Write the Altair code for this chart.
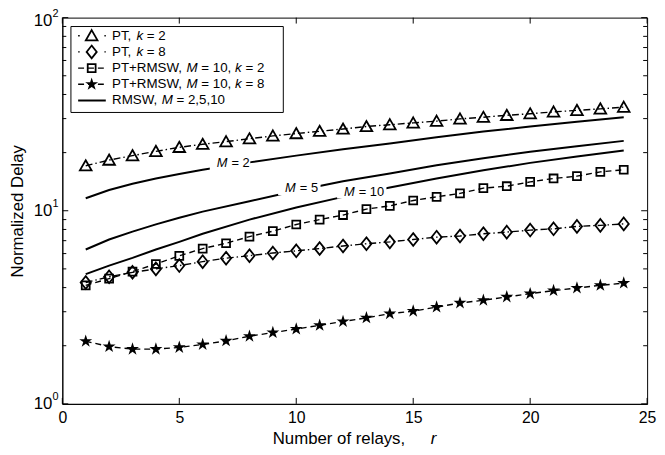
import altair as alt
import pandas as pd

FONT = "Liberation Sans"

# ---------------- data ----------------
r = list(range(1, 25))
pt_k2 = [17.1, 18.3, 19.3, 20.3, 21.3, 22.1, 22.8, 23.6, 24.4, 25.1, 25.8, 26.5,
         27.3, 27.9, 28.5, 29.1, 29.9, 30.5, 31.2, 31.8, 32.5, 33.1, 33.7, 34.4]
pt_k8 = [4.25, 4.55, 4.8, 5.0, 5.2, 5.45, 5.68, 5.85, 6.04, 6.2, 6.37, 6.57,
         6.75, 6.9, 7.1, 7.3, 7.4, 7.6, 7.75, 7.94, 8.06, 8.3, 8.4, 8.55]
rmsw_k2 = [4.11, 4.45, 4.84, 5.3, 5.84, 6.37, 6.79, 7.35, 7.84, 8.49, 9.0, 9.5,
           10.2, 10.6, 11.3, 11.8, 12.3, 13.1, 13.4, 14.1, 14.7, 15.1, 15.9, 16.3]
rmsw_k8 = [2.11, 1.98, 1.92, 1.92, 1.96, 2.03, 2.12, 2.24, 2.34, 2.44, 2.55, 2.67,
           2.79, 2.93, 3.02, 3.17, 3.33, 3.44, 3.58, 3.72, 3.86, 3.98, 4.11, 4.22]

rm_r = [1, 2, 3, 4, 5, 6, 8, 10, 12, 14, 16, 18, 20, 22, 24]
m2 = [11.6, 12.8, 13.8, 14.7, 15.5, 16.3, 17.8, 19.3, 20.8, 22.3, 24.0, 25.7, 27.3, 28.9, 30.5]
m5 = [6.3, 7.1, 7.8, 8.5, 9.2, 9.9, 11.2, 12.7, 14.2, 15.6, 17.2, 18.7, 20.2, 21.6, 23.0]
m10 = [4.7, 5.2, 5.7, 6.3, 6.9, 7.6, 9.0, 10.4, 11.8, 13.2, 14.7, 16.2, 17.7, 19.1, 20.5]

lab_r = [6.6, 9.52, 12.04]
lab_v = [17.6, 13.05, 12.55]
lab_num = ["= 2", "= 5", "= 10"]
lab_w = [34, 36, 43]

x_ticks = [0, 5, 10, 15, 20, 25]
y_major = [1, 10]
y_top = [100]
y_minor = [2, 3, 4, 5, 6, 7, 8, 9, 20, 30, 40, 50, 60, 70, 80, 90]

legend_rows = [
    ["PT, ", ("k",), " = 2"],
    ["PT, ", ("k",), " = 8"],
    ["PT+RMSW, ", ("M",), " = 10, ", ("k",), " = 2"],
    ["PT+RMSW, ", ("M",), " = 10, ", ("k",), " = 8"],
    ["RMSW, ", ("M",), " = 2,5,10"],
]

# ---------------- geometry / styles ----------------
W, H = 592, 391
TRI = "M0,-0.95L1,0.8L-1,0.8Z"
SQR = "M-1,-1L1,-1L1,1L-1,1Z"
DIA = "M0,-1L0.8,0L0,1L-0.8,0Z"
STAR = ("M0,-1L0.2245,-0.309L0.951,-0.309L0.363,0.118L0.588,0.809L0,0.382"
        "L-0.588,0.809L-0.363,0.118L-0.951,-0.309L-0.2245,-0.309Z")
DASHDOT = [7, 3, 1.5, 3]
DASHED = [6, 4]
LEG_DOT = [1.6, 25]
MS = 1.8  # marker stroke

AW = {" ": 278, ",": 278, "+": 584, "=": 584, "P": 667, "T": 611, "R": 722, "M": 833,
      "S": 667, "W": 944, "k": 500}
for ch in "0123456789":
    AW[ch] = 556


def tw(s, size):
    return sum(AW.get(c, 556) for c in s) * size / 1000.0


xs = alt.Scale(domain=[0, 25], nice=False, zero=False)
ys = alt.Scale(type="log", domain=[1, 100], nice=False)
X = alt.X("r:Q", scale=xs, axis=alt.Axis(
    values=x_ticks, format="d", ticks=False, grid=False, domain=True,
    domainColor="black", domainWidth=1, labelFontSize=16, labelFont=FONT,
    labelColor="black", labelPadding=6, labelFlush=False, title=None))
Y = alt.Y("v:Q", scale=ys, axis=alt.Axis(
    labels=False, ticks=False, grid=False, domain=True, domainColor="black",
    domainWidth=1, title="Normalized Delay", titleFontSize=17, titleFont=FONT,
    titleFontWeight="normal", titleColor="black", titlePadding=36))

one = pd.DataFrame({"i": [0]})
layers = []

# RMSW solid lines
for vals in (m2, m5, m10):
    d = pd.DataFrame({"r": rm_r, "v": vals})
    layers.append(alt.Chart(d).mark_line(color="black", strokeWidth=2).encode(x=X, y=Y))

# label backgrounds and labels
labdf = pd.DataFrame({"r": lab_r, "v": lab_v, "num": lab_num})
for i in range(len(lab_r)):
    d = labdf.iloc[[i]]
    layers.append(alt.Chart(d).mark_rect(
        fill="white", xOffset=-7, x2Offset=lab_w[i], yOffset=-7, y2Offset=7).encode(
        x="r:Q", x2="r:Q", y="v:Q", y2="v:Q"))
layers.append(alt.Chart(labdf).mark_text(
    text="M", align="left", baseline="middle", fontSize=13, fontStyle="italic",
    font=FONT, color="black").encode(x="r:Q", y="v:Q"))
layers.append(alt.Chart(labdf).mark_text(
    align="left", baseline="middle", fontSize=13, font=FONT, color="black", dx=15).encode(
    x="r:Q", y="v:Q", text="num:N"))

# marker series
series = [
    (pt_k2, TRI, 140, False, DASHDOT),
    (pt_k8, DIA, 165, False, DASHDOT),
    (rmsw_k2, SQR, 64, False, DASHED),
    (rmsw_k8, STAR, 190, True, DASHED),
]


def marker(data, shp, sz, fill, x, y):
    if fill:
        return alt.Chart(data).mark_point(shape=shp, size=sz, filled=True, color="black",
                                          opacity=1).encode(x=x, y=y)
    return alt.Chart(data).mark_point(shape=shp, size=sz, filled=False, color="black",
                                      strokeWidth=MS, opacity=1).encode(x=x, y=y)


for vals, shp, sz, fill, dash in series:
    d = pd.DataFrame({"r": r, "v": vals})
    layers.append(alt.Chart(d).mark_line(color="black", strokeWidth=1.4, strokeDash=dash).encode(x=X, y=Y))
    layers.append(marker(d, shp, sz, fill, X, Y))

# inward ticks
xt = pd.DataFrame({"r": x_ticks})
layers.append(alt.Chart(xt).mark_rule(color="black", strokeWidth=1).encode(
    x=alt.X("r:Q", scale=xs), y=alt.value(H), y2=alt.value(H - 6)))
layers.append(alt.Chart(xt).mark_rule(color="black", strokeWidth=1).encode(
    x=alt.X("r:Q", scale=xs), y=alt.value(0), y2=alt.value(6)))
ymj = pd.DataFrame({"v": y_major + y_top})
ymn = pd.DataFrame({"v": y_minor})
for dfr, ln in ((ymj, 6), (ymn, 4)):
    layers.append(alt.Chart(dfr).mark_rule(color="black", strokeWidth=1).encode(
        y=alt.Y("v:Q", scale=ys), x=alt.value(0), x2=alt.value(ln)))
    layers.append(alt.Chart(dfr).mark_rule(color="black", strokeWidth=1).encode(
        y=alt.Y("v:Q", scale=ys), x=alt.value(W), x2=alt.value(W - ln)))

# y tick labels 10^n
ylab = pd.DataFrame({"v": y_major, "e": ["0", "1"]})
ylab_top = pd.DataFrame({"v": y_top, "e": ["2"]})
for dfr, d10, dex in ((ylab, 0, -7), (ylab_top, 3, -4)):
    layers.append(alt.Chart(dfr).mark_text(
        text="10", align="right", baseline="middle", fontSize=17, font=FONT, color="black",
        dy=d10).encode(y=alt.Y("v:Q", scale=ys), x=alt.value(-10)))
    layers.append(alt.Chart(dfr).mark_text(
        align="left", baseline="middle", fontSize=11, font=FONT, color="black", dy=dex).encode(
        y=alt.Y("v:Q", scale=ys), x=alt.value(-10), text="e:N"))

# x-axis title
layers.append(alt.Chart(one).mark_text(
    text="Number of relays,", align="left", baseline="alphabetic", fontSize=17, font=FONT,
    color="black").encode(x=alt.value(213), y=alt.value(432)))
layers.append(alt.Chart(one).mark_text(
    text="r", align="left", baseline="alphabetic", fontSize=17, font=FONT, fontStyle="italic",
    color="black").encode(x=alt.value(373), y=alt.value(432)))

# legend
LF = 13.5
layers.append(alt.Chart(one).mark_rect(fill="white", stroke="black", strokeWidth=1).encode(
    x=alt.value(8.7), x2=alt.value(223.7), y=alt.value(9), y2=alt.value(96)))
leg_style = [(TRI, 140, False, LEG_DOT), (DIA, 165, False, LEG_DOT), (SQR, 64, False, DASHED),
             (STAR, 190, True, DASHED), (None, 0, False, None)]
for i, (row, (shp, sz, fill, dash)) in enumerate(zip(legend_rows, leg_style)):
    yy = 18.3 + 16.4 * i
    if dash is None:
        layers.append(alt.Chart(one).mark_rule(color="black", strokeWidth=2).encode(
            x=alt.value(16), x2=alt.value(44), y=alt.value(yy)))
    else:
        layers.append(alt.Chart(one).mark_rule(color="black", strokeWidth=1.4, strokeDash=dash).encode(
            x=alt.value(16), x2=alt.value(44), y=alt.value(yy)))
    if shp is not None:
        layers.append(marker(one, shp, sz, fill, alt.value(29.7), alt.value(yy)))
    xpos = 50.3
    for seg in row:
        it = isinstance(seg, tuple)
        s = seg[0] if it else seg
        lead = len(s) - len(s.lstrip(" "))
        txt = s.strip(" ")
        layers.append(alt.Chart(one).mark_text(
            text=txt, align="left", baseline="middle", fontSize=LF, font=FONT,
            fontStyle="italic" if it else "normal", color="black").encode(
            x=alt.value(xpos + tw(" " * lead, LF)), y=alt.value(yy)))
        xpos += tw(s, LF)

chart = alt.layer(*layers).properties(
    width=W, height=H,
    autosize=alt.AutoSizeParams(type="none"),
    padding={"left": 55, "top": 7, "right": 10, "bottom": 48},
    background="white",
).configure_view(stroke="black", strokeWidth=1)

chart.save("out.html", embed_options={"renderer": "svg", "actions": False})
